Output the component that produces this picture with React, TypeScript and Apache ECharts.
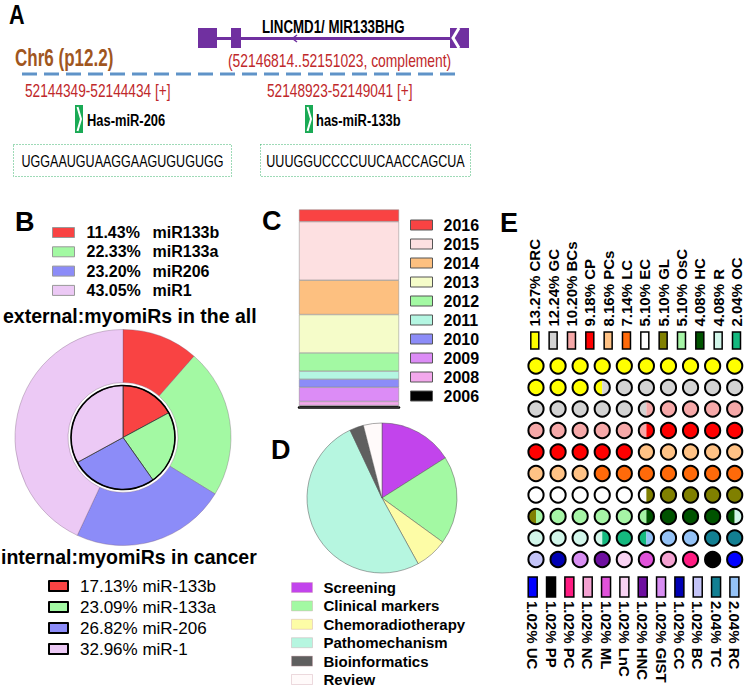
import React, { useEffect, useRef } from 'react';
import * as echarts from 'echarts';

const FONT = '"Liberation Sans", Arial, Helvetica, sans-serif';

// ---------- Panel B: myomiRs ----------
const outerNames = ['miR133b', 'miR133a', 'miR206', 'miR1'];
const outerPct = [11.43, 22.33, 23.2, 43.05];
const innerNames = ['miR-133b', 'miR-133a', 'miR-206', 'miR-1'];
const innerPct = [17.13, 23.09, 26.82, 32.96];
const mirColors = ['#f94343', '#a3f9a3', '#8c8cf8', '#ecc9f5'];

// ---------- Panel C: papers per year ----------
const years = ['2016', '2015', '2014', '2013', '2012', '2011', '2010', '2009', '2008', '2006'];
const papersPerYear = [6, 29, 17, 19, 9, 4, 4, 7, 2, 1];
const yearColors = ['#f94343', '#fde0e1', '#fdc080', '#f5fcc9', '#a3f9a3', '#b4f6e2', '#8c8cf8', '#dc8cf6', '#f3a8ec', '#000000'];

// ---------- Panel D: research topics ----------
const topics = ['Screening', 'Clinical markers', 'Chemoradiotherapy', 'Pathomechanism', 'Bioinformatics', 'Review'];
const topicShare = [16, 19, 7, 51, 3, 4];
const topicColors = ['#c244ec', '#a3f9a3', '#fdfca6', '#b6f6e0', '#5f5f5f', '#fffafa'];

// ---------- Panel E: cancer types (papers) ----------
const cancerTypes = ['CRC', 'GC', 'BCs', 'CP', 'PCs', 'LC', 'EC', 'GL', 'OsC', 'HC', 'R', 'OC', 'RC', 'TC', 'BC', 'CC', 'GIST', 'HNC', 'LnC', 'ML', 'NC', 'PC', 'PP', 'UC'];
const cancerCounts = [13, 12, 10, 9, 8, 7, 5, 5, 5, 4, 4, 2, 2, 2, 1, 1, 1, 1, 1, 1, 1, 1, 1, 1];
const cancerColors = ['#ffff00', '#d3d3d3', '#f6a8a8', '#ff0000', '#ffc285', '#ff6a0a', '#ffffff', '#808000', '#a6f5a6', '#005300', '#d2f6ea', '#14b97f', '#94c2f6', '#127f92', '#c4c4f8', '#0000b4', '#d88ef2', '#6e0fa0', '#f8d2f2', '#e052da', '#f4a2d2', '#ff1c82', '#000000', '#0000ff'];

// ---------- Panel A: locus ----------
const geneName = 'LINCMD1/ MIR133BHG';
const geneRange = '(52146814..52151023, complement)';
const chromosome = 'Chr6 (p12.2)';
const mirLoci = ['52144349-52144434 [+]', '52148923-52149041 [+]'];
const mirNames = ['Has-miR-206', 'has-miR-133b'];
const mirSeqs = ['UGGAAUGUAAGGAAGUGUGUGG', 'UUUGGUCCCCUUCAACCAGCUA'];

const PURPLE = '#7030a0';

function txt(text: string, x: number, y: number, size: number, o: any = {}) {
  const align = o.align || 'left';
  return {
    type: 'text',
    x,
    y,
    z: 50,
    scaleX: o.sx ?? 1,
    rotation: o.rot ?? 0,
    style: {
      text,
      fill: o.color || '#000',
      fontSize: size,
      fontWeight: o.bold ? 'bold' : 'normal',
      fontFamily: FONT,
      align,
      textAlign: align,
      verticalAlign: 'middle',
      textVerticalAlign: 'middle',
    },
  };
}

function buildOption() {
  const totalCases = cancerCounts.reduce((a, b) => a + b, 0);
  const pctLabel = (i: number) => ((cancerCounts[i] * 100) / totalCases).toFixed(2) + '% ' + cancerTypes[i];
  // cumulative boundaries in half-cells (100 cells)
  const halfBounds: number[] = [];
  let acc = 0;
  cancerCounts.forEach((c) => {
    acc += c;
    halfBounds.push(Math.round((acc * 200) / totalCases));
  });
  const catOfHalf = (h: number) => halfBounds.findIndex((b) => b > h);
  const waffle: number[][] = [];
  for (let k = 0; k < 100; k++) waffle.push([k % 10, Math.floor(k / 10), catOfHalf(2 * k), catOfHalf(2 * k + 1)]);

  const topIdx = cancerTypes.slice(0, 12).map((_, i) => i);
  const botIdx = cancerTypes.slice(12).map((_, i) => cancerTypes.length - 1 - i);

  const totalPapers = papersPerYear.reduce((a, b) => a + b, 0);

  const barSeries = years
    .map((y, i) => ({
      name: y,
      type: 'bar',
      stack: 'papers',
      xAxisIndex: 0,
      yAxisIndex: 0,
      barWidth: '100%',
      silent: true,
      itemStyle: { color: yearColors[i], borderColor: '#888', borderWidth: 0.5 },
      data: [papersPerYear[i]],
    }))
    .reverse();

  const graphic: any[] = [
    // Panel letters
    txt('A', 9, 15, 27, { bold: true, sx: 0.8 }),
    txt('B', 15, 222, 27, { bold: true }),
    txt('C', 262, 221, 27, { bold: true }),
    txt('D', 271, 450, 27, { bold: true }),
    txt('E', 500, 223, 27, { bold: true }),
    // Panel A: gene structure
    { type: 'rect', z: 40, shape: { x: 198, y: 28, width: 19, height: 20 }, style: { fill: PURPLE } },
    { type: 'rect', z: 40, shape: { x: 231, y: 28, width: 10, height: 20 }, style: { fill: PURPLE } },
    { type: 'line', z: 40, shape: { x1: 216, y1: 38.5, x2: 452, y2: 38.5 }, style: { stroke: PURPLE, lineWidth: 3 } },
    { type: 'polyline', z: 41, shape: { points: [[297, 35], [292.5, 38.5], [297, 42]] }, style: { stroke: PURPLE, lineWidth: 1.5, fill: 'none' } },
    { type: 'rect', z: 40, shape: { x: 450, y: 28, width: 19, height: 20 }, style: { fill: PURPLE } },
    { type: 'polyline', z: 41, shape: { points: [[459, 28], [453, 38], [459, 48]] }, style: { stroke: '#fff', lineWidth: 3, fill: 'none' } },
    txt(geneName, 262, 27, 17.5, { bold: true, sx: 0.76 }),
    txt(chromosome, 15, 58, 23, { bold: true, sx: 0.74, color: '#a0561e' }),
    txt(geneRange, 228, 60, 18, { sx: 0.77, color: '#c0282a' }),
    { type: 'line', z: 40, shape: { x1: 22, y1: 74, x2: 460, y2: 74 }, style: { stroke: '#5f93c8', lineWidth: 3, lineDash: [15, 7] } },
  ];
  const locX = [25, 267];
  const iconX = [75, 305];
  const nameX = [87, 316];
  const boxes = [
    [13.5, 144.5, 218, 32],
    [260.5, 144.5, 210, 32],
  ];
  for (let i = 0; i < 2; i++) {
    graphic.push(txt(mirLoci[i], locX[i], 91, 18, { sx: 0.76, color: '#c0282a' }));
    graphic.push({ type: 'rect', z: 40, shape: { x: iconX[i], y: 105, width: 8, height: 28 }, style: { fill: '#1aaa55' } });
    graphic.push({
      type: 'polyline',
      z: 41,
      shape: { points: [[iconX[i] + 2.5, 107], [iconX[i] + 6, 119], [iconX[i] + 2.5, 131]] },
      style: { stroke: '#fff', lineWidth: 2, fill: 'none' },
    });
    graphic.push(txt(mirNames[i], nameX[i], 120, 17, { bold: true, sx: 0.76 }));
    const b = boxes[i];
    graphic.push({
      type: 'rect',
      z: 40,
      shape: { x: b[0], y: b[1], width: b[2], height: b[3] },
      style: { fill: 'none', stroke: '#3cb46e', lineWidth: 1, lineDash: [1, 2] },
    });
    graphic.push(txt(mirSeqs[i], b[0] + b[2] / 2, 161, 16.5, { sx: 0.76, align: 'center' }));
  }
  // Panel B titles and inner ring
  graphic.push(txt('external:myomiRs in the all', 3, 316, 19.5, { bold: true }));
  graphic.push(txt('internal:myomiRs in cancer', 1, 557, 19.5, { bold: true }));
  graphic.push({ type: 'circle', z: 60, shape: { cx: 123, cy: 437.5, r: 52 }, style: { fill: 'none', stroke: '#000', lineWidth: 1.6 } });

  const legendBase = {
    orient: 'vertical',
    icon: 'rect',
    padding: 0,
    selectedMode: false,
  };

  return {
    animation: false,
    backgroundColor: '#fff',
    graphic,
    grid: [
      { left: 299, top: 209.5, width: 100, height: 198 },
      { left: 536, top: 366, width: 198.7, height: 193.5 },
      { left: 534.8, top: 335.5, width: 201.7, height: 10 },
      { left: 532.7, top: 582, width: 201.7, height: 10 },
    ],
    xAxis: [
      {
        type: 'category',
        gridIndex: 0,
        data: ['papers'],
        axisLine: { lineStyle: { color: '#000', width: 2.5 } },
        axisTick: { show: false },
        axisLabel: { show: false },
      },
      { type: 'value', gridIndex: 1, min: 0, max: 9, show: false },
      { type: 'value', gridIndex: 2, min: 0, max: 11, show: false },
      { type: 'value', gridIndex: 3, min: 0, max: 11, show: false },
    ],
    yAxis: [
      { type: 'value', gridIndex: 0, min: 0, max: totalPapers, show: false },
      { type: 'value', gridIndex: 1, min: 0, max: 9, inverse: true, show: false },
      { type: 'value', gridIndex: 2, min: -1, max: 1, show: false },
      { type: 'value', gridIndex: 3, min: -1, max: 1, show: false },
    ],
    legend: [
      {
        ...legendBase,
        left: 52,
        top: 224.5,
        itemWidth: 22,
        itemHeight: 10,
        itemGap: 3.3,
        data: outerNames,
        itemStyle: { borderColor: '#999', borderWidth: 1 },
        formatter: (name: string) => `{p|${outerPct[outerNames.indexOf(name)].toFixed(2)}%}{n|${name}}`,
        textStyle: {
          padding: [0, 0, 0, 7],
          rich: {
            p: { width: 66, fontSize: 16, fontWeight: 'bold', fontFamily: FONT, color: '#000' },
            n: { fontSize: 16, fontWeight: 'bold', fontFamily: FONT, color: '#000' },
          },
        },
      },
      {
        ...legendBase,
        left: 48,
        top: 577.5,
        itemWidth: 19,
        itemHeight: 10,
        itemGap: 4,
        data: innerNames,
        itemStyle: { borderColor: '#000', borderWidth: 2 },
        formatter: (name: string) => `${innerPct[innerNames.indexOf(name)].toFixed(2)}% ${name}`,
        textStyle: { fontSize: 17, fontFamily: FONT, color: '#000', padding: [0, 0, 0, 7] },
      },
      {
        ...legendBase,
        left: 410,
        top: 217,
        itemWidth: 22,
        itemHeight: 10,
        itemGap: 3,
        data: years,
        itemStyle: { borderColor: '#555', borderWidth: 1 },
        textStyle: { fontSize: 16, fontWeight: 'bold', fontFamily: FONT, color: '#000', padding: [0, 0, 0, 6] },
      },
      {
        ...legendBase,
        left: 291,
        top: 580,
        itemWidth: 21,
        itemHeight: 10,
        itemGap: 3.4,
        data: topics,
        itemStyle: { borderColor: 'rgba(200,150,160,0.35)', borderWidth: 1 },
        textStyle: { fontSize: 15, fontWeight: 'bold', fontFamily: FONT, color: '#000', padding: [0, 0, 0, 6] },
      },
    ],
    series: [
      {
        type: 'pie',
        name: 'all',
        center: [123, 437.5],
        radius: [55, 108],
        startAngle: 90,
        silent: true,
        label: { show: false },
        labelLine: { show: false },
        itemStyle: { borderColor: 'rgba(110,80,110,0.55)', borderWidth: 0.6 },
        data: outerNames.map((n, i) => ({ name: n, value: outerPct[i], itemStyle: { color: mirColors[i] } })),
      },
      {
        type: 'pie',
        name: 'cancer',
        center: [123, 437.5],
        radius: [0, 52],
        startAngle: 90,
        silent: true,
        label: { show: false },
        labelLine: { show: false },
        itemStyle: { borderColor: '#333', borderWidth: 0.8 },
        data: innerNames.map((n, i) => ({ name: n, value: innerPct[i], itemStyle: { color: mirColors[i] } })),
      },
      ...barSeries,
      {
        type: 'pie',
        name: 'topics',
        center: [382, 498],
        radius: [0, 75],
        startAngle: 90,
        silent: true,
        label: { show: false },
        labelLine: { show: false },
        itemStyle: { borderColor: '#555', borderWidth: 0.5 },
        data: topics.map((n, i) => ({ name: n, value: topicShare[i], itemStyle: { color: topicColors[i] } })),
      },
      {
        type: 'custom',
        name: 'waffle',
        coordinateSystem: 'cartesian2d',
        xAxisIndex: 1,
        yAxisIndex: 1,
        clip: false,
        silent: true,
        data: waffle,
        renderItem: (_p: any, api: any) => {
          const c = api.coord([api.value(0), api.value(1)]);
          const L = api.value(2);
          const R = api.value(3);
          const r = 7.6;
          if (L === R) {
            return { type: 'circle', shape: { cx: c[0], cy: c[1], r }, style: { fill: cancerColors[L], stroke: '#000', lineWidth: 2 } };
          }
          return {
            type: 'group',
            children: [
              { type: 'sector', shape: { cx: c[0], cy: c[1], r0: 0, r, startAngle: Math.PI / 2, endAngle: (Math.PI * 3) / 2, clockwise: true }, style: { fill: cancerColors[L] } },
              { type: 'sector', shape: { cx: c[0], cy: c[1], r0: 0, r, startAngle: -Math.PI / 2, endAngle: Math.PI / 2, clockwise: true }, style: { fill: cancerColors[R] } },
              { type: 'circle', shape: { cx: c[0], cy: c[1], r }, style: { fill: 'none', stroke: '#000', lineWidth: 2 } },
            ],
          };
        },
      },
      {
        type: 'custom',
        name: 'topKey',
        coordinateSystem: 'cartesian2d',
        xAxisIndex: 2,
        yAxisIndex: 2,
        clip: false,
        silent: true,
        data: topIdx.map((ci, p) => [p, 0, ci]),
        renderItem: (_p: any, api: any) => {
          const ci = api.value(2);
          const c = api.coord([api.value(0), 0]);
          return {
            type: 'group',
            children: [
              { type: 'rect', shape: { x: c[0] - 4, y: c[1] - 8.5, width: 8, height: 17 }, style: { fill: cancerColors[ci], stroke: '#000', lineWidth: 1.5 } },
              {
                type: 'text',
                x: c[0],
                y: c[1] - 14,
                rotation: Math.PI / 2,
                style: { text: pctLabel(ci), fill: '#000', fontSize: 15, fontWeight: 'bold', fontFamily: FONT, align: 'left', verticalAlign: 'middle' },
              },
            ],
          };
        },
      },
      {
        type: 'custom',
        name: 'bottomKey',
        coordinateSystem: 'cartesian2d',
        xAxisIndex: 3,
        yAxisIndex: 3,
        clip: false,
        silent: true,
        data: botIdx.map((ci, p) => [p, 0, ci]),
        renderItem: (_p: any, api: any) => {
          const ci = api.value(2);
          const c = api.coord([api.value(0), 0]);
          return {
            type: 'group',
            children: [
              { type: 'rect', shape: { x: c[0] - 4.5, y: c[1] - 10, width: 9, height: 20 }, style: { fill: cancerColors[ci], stroke: '#000', lineWidth: 1.5 } },
              {
                type: 'text',
                x: c[0],
                y: c[1] + 14,
                rotation: -Math.PI / 2,
                style: { text: pctLabel(ci), fill: '#000', fontSize: 15, fontWeight: 'bold', fontFamily: FONT, align: 'left', verticalAlign: 'middle' },
              },
            ],
          };
        },
      },
    ],
  };
}

export default function App() {
  const ref = useRef<HTMLDivElement>(null);
  useEffect(() => {
    const chart = echarts.init(ref.current as HTMLDivElement, null, { renderer: 'svg' });
    chart.setOption(buildOption() as any);
    return () => chart.dispose();
  }, []);
  return <div ref={ref} style={{ position: 'fixed', left: 0, top: 0, width: 745, height: 689, background: '#fff' }} />;
}
